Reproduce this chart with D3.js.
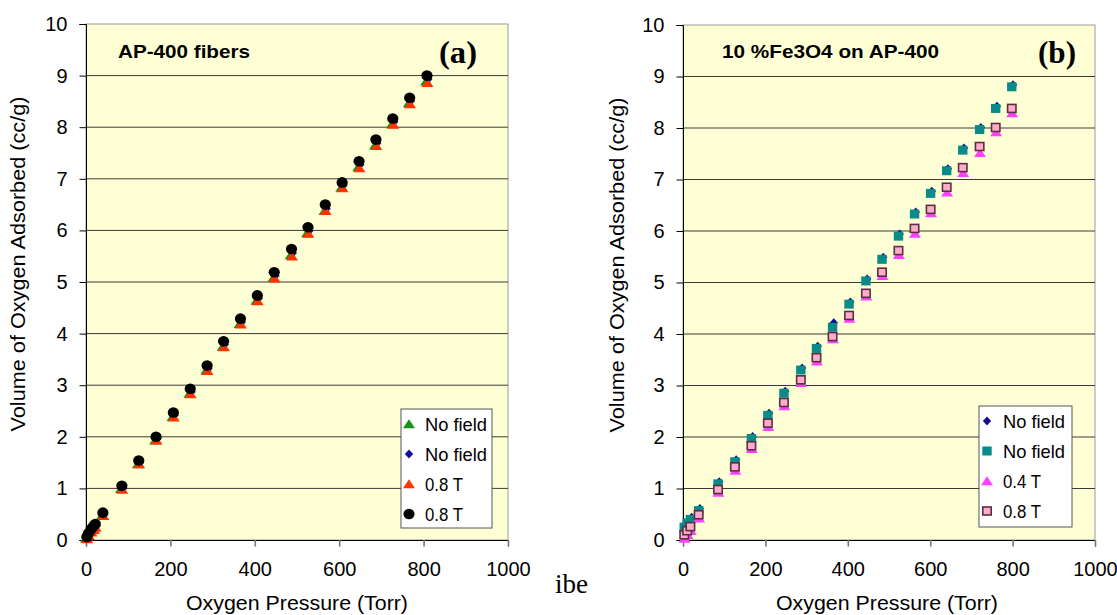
<!DOCTYPE html>
<html><head><meta charset="utf-8">
<script src="https://cdn.jsdelivr.net/npm/d3@7"></script>
<style>body{margin:0;background:#fff}svg{display:block}text{font-family:"Liberation Sans",Arial,sans-serif}</style>
</head><body><svg id="c" width="1117" height="615"></svg>
<script>
// ---------- DATA ----------
const yTicks = [0,1,2,3,4,5,6,7,8,9,10];
const xTicks = [0,200,400,600,800,1000];

// Panel (a) AP-400 fibers
const aPressure = [2,6,12,18,22,40,85,125,166,207,247,287,326,366,406,446,487,526,567,607,647,687,727,767,808];
const aNoFieldTri = [0.03,0.09,0.16,0.21,0.25,0.48,0.99,1.47,1.93,2.39,2.84,3.29,3.75,4.19,4.64,5.08,5.52,5.95,6.38,6.83,7.23,7.65,8.06,8.47,8.89];
const aNoFieldDia = [0.04,0.1,0.18,0.23,0.27,0.5,1.01,1.5,1.96,2.42,2.87,3.32,3.79,4.22,4.68,5.12,5.56,5.99,6.42,6.87,7.27,7.69,8.1,8.51,8.93];
const a08TTri = [0.02,0.08,0.15,0.2,0.24,0.47,0.98,1.47,1.93,2.38,2.83,3.28,3.74,4.18,4.63,5.07,5.5,5.94,6.38,6.82,7.21,7.64,8.05,8.45,8.86];
const a08TCirc = [0.06,0.13,0.21,0.27,0.31,0.53,1.05,1.54,2.0,2.47,2.93,3.38,3.85,4.29,4.74,5.19,5.64,6.06,6.5,6.93,7.34,7.76,8.17,8.57,9.0];

// Panel (b) 10 %Fe3O4 on AP-400
const bPressure = [3,10,18,38,85,126,166,206,245,286,324,363,403,444,483,523,562,601,640,679,720,759,798];
const bNoFieldDia = [0.29,0.37,0.44,0.61,1.13,1.56,2.01,2.46,2.89,3.34,3.76,4.22,4.62,5.07,5.49,5.94,6.37,6.77,7.21,7.61,8.01,8.42,8.84];
const bNoFieldSq = [0.25,0.33,0.4,0.57,1.09,1.52,1.97,2.42,2.85,3.30,3.72,4.13,4.58,5.03,5.45,5.9,6.33,6.73,7.17,7.57,7.97,8.38,8.80];
const b04TTri = [0.03,0.1,0.18,0.42,0.92,1.35,1.77,2.2,2.6,3.05,3.47,3.9,4.3,4.73,5.13,5.54,5.95,6.35,6.75,7.13,7.52,7.92,8.29];
const b08TSq = [0.1,0.18,0.26,0.49,0.98,1.42,1.83,2.27,2.67,3.11,3.54,3.95,4.36,4.79,5.2,5.62,6.05,6.42,6.85,7.23,7.64,8.01,8.38];

const aLegend = ["No field","No field","0.8 T","0.8 T"];
const bLegend = ["No field","No field","0.4 T","0.8 T"];
const xTitle = "Oxygen Pressure (Torr)";
const yTitle = "Volume of Oxygen Adsorbed (cc/g)";

// ---------- DRAW ----------
const svg = d3.select("#c");

function marker(g, type, x, y, style) {
  if (type === "circle") {
    g.append("ellipse").attr("cx", x).attr("cy", y).attr("rx", 5.6).attr("ry", 5.3).attr("fill", style.fill);
  } else if (type === "tri") {
    g.append("path").attr("d", "M0,-4.8L6,4.2L-6,4.2Z").attr("transform", `translate(${x},${y})`).attr("fill", style.fill);
  } else if (type === "dia") {
    g.append("path").attr("d", "M0,-4.5L4.2,0L0,4.5L-4.2,0Z").attr("transform", `translate(${x},${y})`).attr("fill", style.fill);
  } else if (type === "sq") {
    g.append("rect").attr("x", x-4.7).attr("y", y-4.5).attr("width", 9.4).attr("height", 9).attr("fill", style.fill);
  } else if (type === "sqb") {
    g.append("rect").attr("x", x-4.2).attr("y", y-4).attr("width", 8.4).attr("height", 8).attr("fill", style.fill)
      .attr("stroke", style.stroke).attr("stroke-width", 1.6);
  }
}

function panel(cfg) {
  const x = d3.scaleLinear().domain([0,1000]).range([cfg.x0, cfg.x1]);
  const y = d3.scaleLinear().domain([0,10]).range([540, cfg.yTop]);
  const g = svg.append("g");
  g.append("rect").attr("x", cfg.x0).attr("y", cfg.yTop).attr("width", cfg.x1-cfg.x0).attr("height", 540-cfg.yTop)
    .attr("fill", "#ffffd6").attr("stroke", "#9a9a9a").attr("stroke-width", 1);
  // gridlines
  g.append("g").selectAll("line").data(yTicks.filter(d => d>0 && d<10)).join("line")
    .attr("x1", cfg.x0).attr("x2", cfg.x1).attr("y1", d => y(d)).attr("y2", d => y(d))
    .attr("stroke", "#3a3a3a").attr("stroke-width", 1);
  // axes
  const ya = g.append("g").attr("transform", `translate(${cfg.x0},0)`)
    .call(d3.axisLeft(y).tickValues(yTicks).tickSize(6.5).tickPadding(12).tickFormat(d3.format("d")));
  ya.select(".domain").attr("stroke", "#000");
  ya.selectAll("text").attr("font-size", 20).attr("fill", "#000").style("font-family", "Liberation Sans, Arial");
  const xa = g.append("g").attr("transform", `translate(0,540)`)
    .call(d3.axisBottom(x).tickValues(xTicks).tickSize(6.5).tickPadding(15).tickFormat(d3.format("d")));
  xa.select(".domain").attr("stroke", "#000");
  xa.selectAll("line").attr("stroke", "#777").attr("stroke-width", 1.6);
  xa.selectAll("text").attr("font-size", 20).attr("fill", "#000").style("font-family", "Liberation Sans, Arial");
  // titles
  g.append("text").attr("x", cfg.xTitleX).attr("y", 610).attr("text-anchor", "middle")
    .attr("font-size", 20).attr("textLength", 222).attr("lengthAdjust", "spacingAndGlyphs").text(xTitle);
  g.append("text").attr("transform", `translate(${cfg.yTitleX},${cfg.yTitleY}) rotate(-90)`)
    .attr("text-anchor", "middle").attr("font-size", 19.5).attr("textLength", 335).attr("lengthAdjust", "spacingAndGlyphs").text(yTitle);
  g.append("text").attr("x", cfg.titleX).attr("y", 58).attr("font-size", 19).attr("font-weight", "bold")
    .attr("textLength", cfg.titleW).attr("lengthAdjust", "spacingAndGlyphs").text(cfg.title);
  g.append("text").attr("x", cfg.tagX).attr("y", 63).attr("font-size", 32).attr("font-weight", "bold")
    .style("font-family", "Liberation Serif, Times New Roman, serif")
    .attr("textLength", 38).attr("lengthAdjust", "spacingAndGlyphs").text(cfg.tag);
  // series
  cfg.series.forEach(s => {
    const sg = g.append("g");
    s.values.forEach((v, i) => marker(sg, s.type, x(cfg.pressure[i] + (s.dx||0)), y(v), s));
  });
  // legend
  const L = cfg.legend;
  g.append("rect").attr("x", L.x).attr("y", L.y).attr("width", L.w).attr("height", L.h)
    .attr("fill", "#fff").attr("stroke", "#555").attr("stroke-width", 1);
  cfg.series.forEach((s, i) => {
    const cy = L.y + 15 + i*30;
    marker(g, s.type, L.x + 8, cy, s);
    const lbl = cfg.labels[i];
    g.append("text").attr("x", L.x + 24).attr("y", cy + 6.5).attr("font-size", 18.5)
      .attr("textLength", lbl.length > 5 ? 62 : 38).attr("lengthAdjust", "spacingAndGlyphs").text(lbl);
  });
}

panel({
  x0: 86, x1: 508, yTop: 24, title: "AP-400 fibers", titleX: 118, titleW: 132, tag: "(a)", tagX: 439,
  yTitleX: 25, yTitleY: 264, xTitleX: 297, pressure: aPressure, labels: aLegend,
  legend: {x: 401, y: 409, w: 91, h: 119},
  series: [
    {type: "tri", fill: "#139413", values: aNoFieldTri, dx: -2},
    {type: "dia", fill: "#1010a0", values: aNoFieldDia, dx: 3},
    {type: "tri", fill: "#ff3300", values: a08TTri, dx: 1},
    {type: "circle", fill: "#000000", values: a08TCirc, dx: 0}
  ]
});

panel({
  x0: 683, x1: 1095, yTop: 25, title: "10 %Fe3O4 on AP-400", titleX: 722, titleW: 217, tag: "(b)", tagX: 1038,
  yTitleX: 624, yTitleY: 265, xTitleX: 887, pressure: bPressure, labels: bLegend,
  legend: {x: 979, y: 406, w: 93, h: 121},
  series: [
    {type: "dia", fill: "#10108c", values: bNoFieldDia, dx: 3},
    {type: "sq", fill: "#0b8a8a", values: bNoFieldSq, dx: 0},
    {type: "tri", fill: "#ff40ff", values: b04TTri, dx: 1},
    {type: "sqb", fill: "#ffaccc", stroke: "#5a3040", values: b08TSq, dx: 0}
  ]
});

svg.append("text").attr("x", 555).attr("y", 593).attr("font-size", 27)
  .style("font-family", "Liberation Serif, Times New Roman, serif").text("ibe");
</script></body></html>
